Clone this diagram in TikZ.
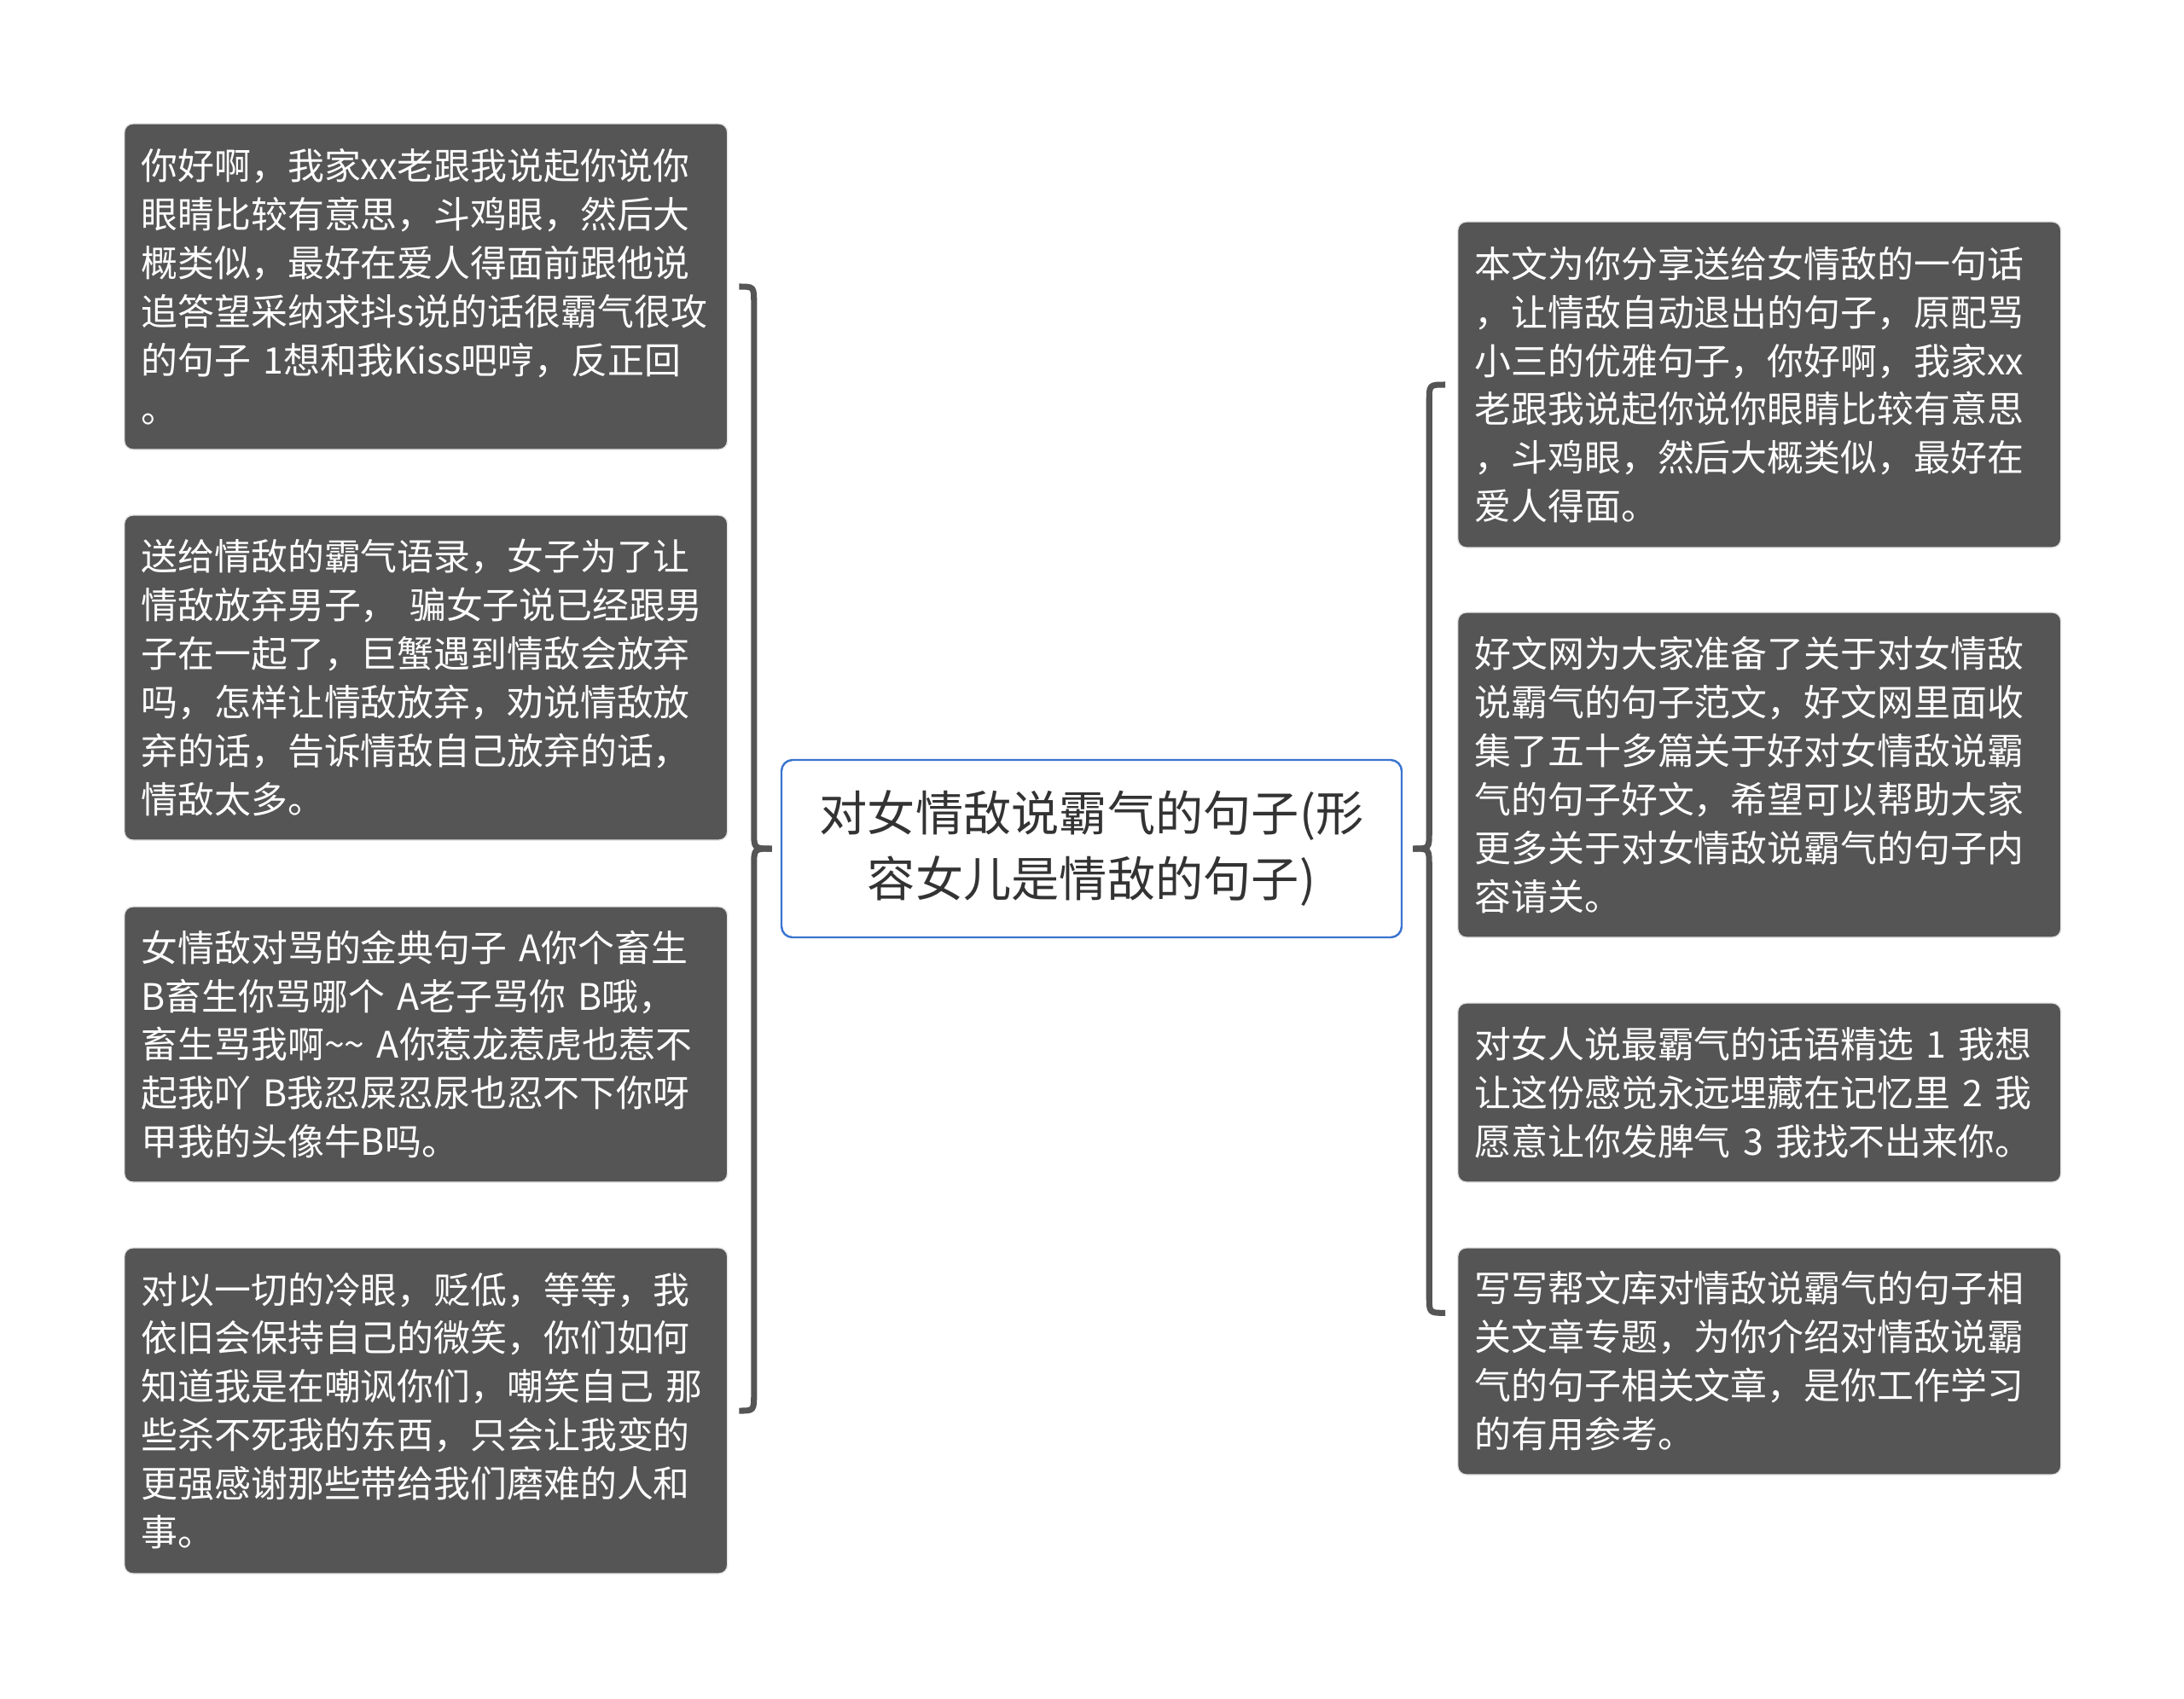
\documentclass[tikz,border=0pt]{standalone}
\usepackage{fontspec}
\newfontfamily\cjkfont{Noto Sans CJK SC}
\usetikzlibrary{calc,positioning}
\definecolor{boxgray}{HTML}{555555}
\definecolor{rootblue}{HTML}{3A75D0}
\definecolor{roottext}{HTML}{333333}

\begin{document}
\begin{tikzpicture}[
  leaf/.style={draw=black!10, fill=boxgray, text=white, rounded corners=0.1cm,
    anchor=west, text width=6.67cm, inner xsep=0.2cm, inner ysep=0.1cm,
    align=left, font=\cjkfont\fontsize{12.2pt}{16.2pt}\selectfont},
  rootbox/.style={draw=rootblue, line width=0.7pt, fill=white, text=roottext,
    rounded corners=0.13cm, minimum width=7.27cm, minimum height=2.08cm,
    align=center, font=\cjkfont\fontsize{16pt}{21.9pt}\selectfont},
  brace/.style={draw=boxgray, line width=2pt}
]
\useasboundingbox (0,0) rectangle (25.6,-19.91);
\fill[white] (0,0) rectangle (25.6,-19.91);

% Mittelknoten
\node[rootbox] (root) at (12.795,-9.95) {对女情敌说霸气的句子(形\\容女儿是情敌的句子)};

% linke Zweige
\foreach \n/\y/\h/\txt in {
  l1/3.36/3.82/{你好啊，我家xx老跟我说起你说你\\眼睛比较有意思，斗鸡眼，然后大\\概类似，最好在爱人得面前跟他说\\追答望采纳求抖s说的话很霸气很攻\\的句子 1想和我Kiss吧哼，反正回\\。},
  l2/7.945/3.81/{送给情敌的霸气语录，女子为了让\\情敌放弃男子， 骗女子说已经跟男\\子在一起了，巨蟹遇到情敌会放弃\\吗，怎样让情敌放弃，劝说情敌放\\弃的话，告诉情敌自己放弃的话，\\情敌太多。},
  l3/12.245/3.23/{女情敌对骂的金典句子 A你个畜生\\B畜生你骂哪个 A老子骂你 B哦，\\畜生骂我啊\textasciitilde\textasciitilde{} A你惹龙惹虎也惹不\\起我吖 B我忍屎忍尿也忍不下你呀\\甲我的头像牛B吗。},
  l4/16.54/3.82/{对以一切的冷眼，贬低，等等，我\\依旧会保持自己的微笑，你们如何\\知道我是在嘲讽你们，嘲笑自己 那\\些杀不死我的东西，只会让我变的\\更强感谢那些带给我们磨难的人和\\事。}
}{
  \node[leaf, minimum height=\h cm] (\n) at (1.45,-\y) {\txt};
}

% rechte Zweige
\foreach \n/\y/\h/\txt in {
  r1/4.51/3.82/{本文为你分享送给女情敌的一句话\\，让情敌自动退出的句子，原配骂\\小三的优雅句子，你好啊，我家xx\\老跟我说起你说你眼睛比较有意思\\，斗鸡眼，然后大概类似，最好在\\爱人得面。},
  r2/9.085/3.81/{好文网为大家准备了关于对女情敌\\说霸气的句子范文，好文网里面收\\集了五十多篇关于好对女情敌说霸\\气的句子好文，希望可以帮助大家\\更多关于对女情敌说霸气的句子内\\容请关。},
  r3/12.81/2.10/{对女人说最霸气的话语精选 1 我想\\让这份感觉永远埋藏在记忆里 2 我\\愿意让你发脾气 3 我找不出来你。},
  r4/15.96/2.66/{写写帮文库对情敌说霸气的句子相\\关文章专题，为你介绍对情敌说霸\\气的句子相关文章，是你工作学习\\的有用参考。}
}{
  \node[leaf, minimum height=\h cm] (\n) at (17.08,-\y) {\txt};
}

% linke Klammer
\coordinate (ltip) at ($(root.west)+(-0.1,0)$);
\coordinate (lbar) at ($(root.west)+(-0.31,0)$);
\draw[brace] ($(l1.east)+(0.13,0)$) .. controls (l1.east -| lbar) .. ($(l1.east -| lbar)+(0,-0.2)$)
  -- ($(lbar)+(0,0.2)$) .. controls (lbar) .. (ltip);
\draw[brace] ($(l4.east)+(0.13,0)$) .. controls (l4.east -| lbar) .. ($(l4.east -| lbar)+(0,0.2)$)
  -- ($(lbar)+(0,-0.2)$) .. controls (lbar) .. (ltip);

% rechte Klammer
\coordinate (rtip) at ($(root.east)+(0.12,0)$);
\coordinate (rbar) at ($(root.east)+(0.31,0)$);
\coordinate (rend) at ($(r4.north west)+(-0.14,-0.77)$);
\draw[brace] ($(r1.west)+(-0.14,0)$) .. controls (r1.west -| rbar) .. ($(r1.west -| rbar)+(0,-0.2)$)
  -- ($(rbar)+(0,0.2)$) .. controls (rbar) .. (rtip);
\draw[brace] (rend) .. controls (rend -| rbar) .. ($(rend -| rbar)+(0,0.2)$)
  -- ($(rbar)+(0,-0.2)$) .. controls (rbar) .. (rtip);

\end{tikzpicture}
\end{document}
